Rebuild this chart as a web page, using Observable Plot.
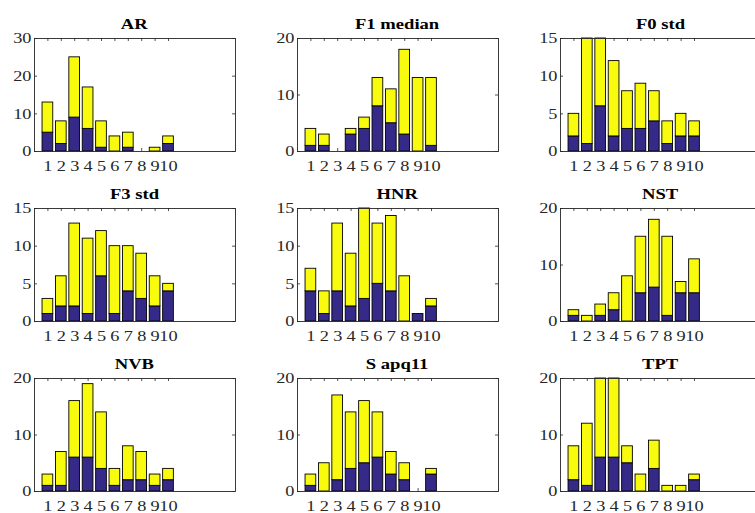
<!DOCTYPE html>
<html><head><meta charset="utf-8">
<script src="https://cdn.jsdelivr.net/npm/d3@7"></script>
<script src="https://cdn.jsdelivr.net/npm/@observablehq/plot@0.6"></script>
<style>
html,body{margin:0;padding:0;background:#fff;}
body{width:755px;height:513px;overflow:hidden;position:relative;}
.panel{position:absolute;}
.panel svg{max-width:none !important;}
.title{position:absolute;font-family:"Liberation Serif","Times New Roman",serif;font-weight:bold;font-size:15.5px;line-height:16px;color:#000;text-align:center;white-space:nowrap;}
.title span{display:inline-block;transform:scaleX(1.2);transform-origin:center;}
</style></head><body>
<script>
// ---- data ----
const bins = [1, 2, 3, 4, 5, 6, 7, 8, 9, 10];
const titles = ["AR", "F1 median", "F0 std", "F3 std", "HNR", "NST", "NVB", "S apq11", "TPT"];
const yMax = [30, 20, 15, 15, 15, 20, 20, 20, 20];
const yStep = [10, 10, 5, 5, 5, 10, 10, 10, 10];

// lower (blue) segment and total bar height per bin
const arLow      = [5, 2, 9, 6, 1, 0, 1, 0, 0, 2];
const arTotal    = [13, 8, 25, 17, 8, 4, 5, 0, 1, 4];
const f1Low      = [1, 1, 0, 3, 4, 8, 5, 3, 0, 1];
const f1Total    = [4, 3, 0, 4, 6, 13, 11, 18, 13, 13];
const f0Low      = [2, 1, 6, 2, 3, 3, 4, 1, 2, 2];
const f0Total    = [5, 16, 17, 12, 8, 9, 8, 4, 5, 4];
const f3Low      = [1, 2, 2, 1, 6, 1, 4, 3, 2, 4];
const f3Total    = [3, 6, 13, 11, 12, 10, 10, 9, 6, 5];
const hnrLow     = [4, 1, 4, 2, 3, 5, 4, 0, 1, 2];
const hnrTotal   = [7, 4, 13, 9, 15, 13, 14, 6, 1, 3];
const nstLow     = [1, 0, 1, 2, 0, 5, 6, 1, 5, 5];
const nstTotal   = [2, 1, 3, 5, 8, 15, 18, 15, 7, 11];
const nvbLow     = [1, 1, 6, 6, 4, 1, 2, 2, 1, 2];
const nvbTotal   = [3, 7, 16, 19, 14, 4, 8, 7, 3, 4];
const apqLow     = [1, 0, 2, 4, 5, 6, 3, 2, 0, 3];
const apqTotal   = [3, 5, 17, 14, 16, 14, 7, 5, 0, 4];
const tptLow     = [2, 1, 6, 6, 5, 0, 4, 0, 0, 2];
const tptTotal   = [8, 12, 22, 21, 8, 3, 9, 1, 1, 3];

const lows = [arLow, f1Low, f0Low, f3Low, hnrLow, nstLow, nvbLow, apqLow, tptLow];
const totals = [arTotal, f1Total, f0Total, f3Total, hnrTotal, nstTotal, nvbTotal, apqTotal, tptTotal];

// ---- style / layout ----
const BLUE = "#352a87", YELLOW = "#f9fb0e", AXIS = "#262626";
const xMax = 15, barHalf = 0.4;
const colLeft = [34, 297, 560];
const rowTop = [38, 207.5, 377.5];
const boxW = 201, boxH = 113;
const mL = 40, mR = 10, mT = 4, mB = 22;
const STRETCH = 1.22;

titles.forEach((title, i) => {
  const col = i % 3, row = Math.floor(i / 3);
  const rows = bins.map((b, j) => ({bin: b, low: lows[i][j], total: totals[i][j]}));
  const ym = yMax[i];
  const yticks = d3.range(0, ym + 0.001, yStep[i]);
  const tx = 3 / boxW * xMax, ty = 3 / boxH * ym;
  const W = boxW + mL + mR, H = boxH + mT + mB;

  const chart = Plot.plot({
    width: W,
    height: H,
    marginLeft: mL, marginRight: mR, marginTop: mT, marginBottom: mB,
    style: {fontFamily: '"Liberation Serif","Times New Roman",serif', fontSize: "15px", color: AXIS, background: "transparent", overflow: "visible", maxWidth: "none"},
    x: {domain: [0, xMax], axis: null},
    y: {domain: [0, ym], clamp: true, axis: null},
    marks: [
      Plot.ruleX(bins, {x: d => d, y1: 0, y2: ty, stroke: AXIS, strokeWidth: 0.8}),
      Plot.ruleX(bins, {x: d => d, y1: ym, y2: ym - ty, stroke: AXIS, strokeWidth: 0.8}),
      Plot.ruleY(yticks, {y: d => d, x1: 0, x2: tx, stroke: AXIS, strokeWidth: 0.8}),
      Plot.ruleY(yticks, {y: d => d, x1: xMax, x2: xMax - tx, stroke: AXIS, strokeWidth: 0.8}),
      Plot.rect(rows, {x1: d => d.bin - barHalf, x2: d => d.bin + barHalf, y1: 0, y2: "low", fill: BLUE, stroke: "#000", strokeWidth: 0.9}),
      Plot.rect(rows, {x1: d => d.bin - barHalf, x2: d => d.bin + barHalf, y1: "low", y2: "total", fill: YELLOW, stroke: "#000", strokeWidth: 0.9}),
      Plot.frame({stroke: AXIS, strokeWidth: 0.9}),
      Plot.axisX({ticks: bins, tickSize: 0, tickPadding: 9, tickFormat: d => String(d), fontSize: 15}),
      Plot.axisY({ticks: yticks, tickSize: 0, tickPadding: 3, tickFormat: d => String(d), fontSize: 15})
    ]
  });

  // horizontally stretch tick labels (reference text is wide)
  chart.querySelectorAll("text").forEach(t => {
    const tr = t.getAttribute("transform");
    if (tr) {
      t.setAttribute("transform", tr + ` scale(${STRETCH},1)`);
    } else {
      const x = +(t.getAttribute("x") || 0), y = +(t.getAttribute("y") || 0);
      t.setAttribute("x", 0); t.setAttribute("y", 0);
      t.setAttribute("transform", `translate(${x},${y}) scale(${STRETCH},1)`);
    }
  });

  const wrap = document.createElement("div");
  wrap.className = "panel";
  wrap.style.left = (colLeft[col] - mL) + "px";
  wrap.style.top = (rowTop[row] - mT) + "px";
  wrap.style.width = W + "px";
  wrap.style.height = H + "px";
  wrap.appendChild(chart);
  document.body.appendChild(wrap);

  const t = document.createElement("div");
  t.className = "title";
  const s = document.createElement("span");
  s.textContent = title;
  t.appendChild(s);
  t.style.left = colLeft[col] + "px";
  t.style.width = boxW + "px";
  t.style.top = (rowTop[row] - 22) + "px";
  document.body.appendChild(t);
});
</script>
</body></html>
